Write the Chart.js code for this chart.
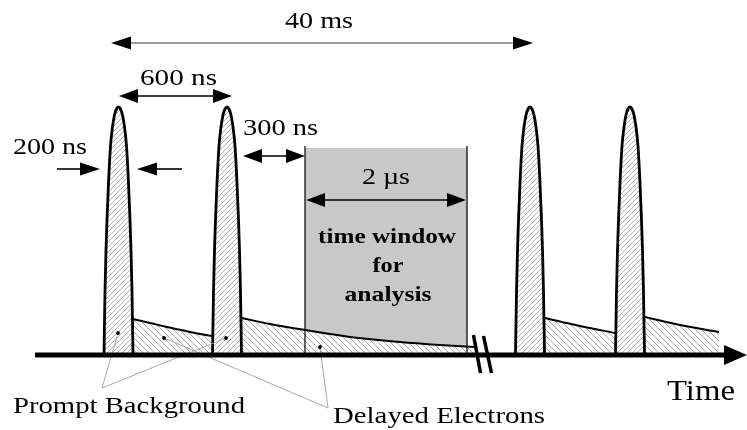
<!DOCTYPE html>
<html>
<head>
<meta charset="utf-8">
<title>Pulse timing and analysis window</title>
<script src="https://cdn.jsdelivr.net/npm/chart.js@4/dist/chart.umd.min.js"></script>
<style>
  html, body { margin: 0; padding: 0; background: #fff; }
  canvas { display: block; }
  .warm { position: absolute; left: -9999px; top: 0; font-family: "Liberation Serif"; }
</style>
</head>
<body>
<span class="warm">Ab</span><span class="warm" style="font-weight:bold">Ab</span>
<canvas id="c" width="747" height="430"></canvas>
<script>
// Beam pulses: centre times (arbitrary time units) and the shared pulse profile
const pulseCentres = [118.5, 227, 530, 630];
const pulseOffsets = [-14.5, -13.5, -12.5, -11.5, -10, -8, -6, -4, -2, 0, 2, 4, 6, 8, 10, 11.5, 12.5, 13.5, 14.5];
const pulseHeights = [0, 63, 105, 135, 172, 209, 228, 240, 246, 248, 246, 240, 228, 209, 172, 135, 105, 63, 0];

// Delayed-electron tails following each pulse
const tailTimes  = [[133, 150, 167, 190, 212], [242, 270, 305, 350, 400, 440, 474], [545, 580, 615], [645, 680, 719]];
const tailLevels = [[36, 32, 28, 23, 19],      [37, 31, 25, 18, 13, 10, 8],        [37, 29, 22],    [38, 30, 23]];

// Analysis window
const windowStart = 305;
const windowEnd = 467;
const windowTop = 207;

// Interval labels
const intervalLabels = ['40 ms', '600 ns', '200 ns', '300 ns', '2 \u00b5s'];
const windowLines = ['time window', 'for', 'analysis'];
const calloutLabels = ['Prompt Background', 'Delayed Electrons'];
const axisLabel = 'Time';

const SERIF = '"Liberation Serif", "Times New Roman", Times, serif';

function hatch(dir, size, colour) {
  const c = document.createElement('canvas');
  c.width = size; c.height = size;
  const g = c.getContext('2d');
  g.fillStyle = '#ffffff';
  g.fillRect(0, 0, size, size);
  g.strokeStyle = colour;
  g.lineWidth = 0.9;
  g.beginPath();
  if (dir === '/') {
    g.moveTo(-1, size + 1); g.lineTo(size + 1, -1);
    g.moveTo(-1, 1); g.lineTo(1, -1);
    g.moveTo(size - 1, size + 1); g.lineTo(size + 1, size - 1);
  } else {
    g.moveTo(-1, -1); g.lineTo(size + 1, size + 1);
    g.moveTo(size - 1, -1); g.lineTo(size + 1, 1);
    g.moveTo(-1, size - 1); g.lineTo(1, size + 1);
  }
  g.stroke();
  return g.createPattern(c, 'repeat');
}

const pulseFill = hatch('/', 5, '#a8a8a8');
const tailFill = hatch('\\', 6, '#a0a0a0');

const datasets = [];

// grey analysis window (bottom layer)
datasets.push({
  label: 'window',
  data: [{x: windowStart, y: 0}, {x: windowStart, y: windowTop}, {x: windowEnd, y: windowTop}, {x: windowEnd, y: 0}],
  borderWidth: 0,
  backgroundColor: '#c8c8c8',
  fill: 'origin',
  tension: 0,
  order: 5
});

// delayed-electron tails
tailTimes.forEach((ts, i) => {
  datasets.push({
    label: 'tail ' + (i + 1),
    data: ts.map((t, k) => ({x: t, y: tailLevels[i][k]})),
    borderColor: '#000',
    borderWidth: 2,
    backgroundColor: tailFill,
    fill: 'origin',
    tension: 0.35,
    order: 4
  });
});

// window edges drawn over the tail
datasets.push({
  label: 'window edges',
  data: [{x: windowStart, y: 0}, {x: windowStart, y: windowTop + 2}, {x: 386, y: null},
         {x: windowEnd, y: windowTop + 2}, {x: windowEnd, y: 0}],
  borderColor: '#000',
  borderWidth: 1.2,
  fill: false,
  spanGaps: false,
  tension: 0,
  order: 3
});

// pulses
pulseCentres.forEach((c, i) => {
  datasets.push({
    label: 'pulse ' + (i + 1),
    data: pulseOffsets.map((d, k) => ({x: c + d, y: pulseHeights[k]})),
    borderColor: '#000',
    borderWidth: 2.8,
    backgroundColor: pulseFill,
    fill: 'origin',
    cubicInterpolationMode: 'monotone',
    order: 2
  });
});

const diagram = {
  id: 'diagram',
  afterDatasetsDraw(chart) {
    const ctx = chart.ctx;
    const xs = chart.scales.x, ys = chart.scales.y;
    const X = v => xs.getPixelForValue(v);
    const Y = v => ys.getPixelForValue(v);

    function line(x1, y1, x2, y2, colour, w) {
      ctx.save();
      ctx.strokeStyle = colour; ctx.lineWidth = w;
      ctx.beginPath(); ctx.moveTo(X(x1), Y(y1)); ctx.lineTo(X(x2), Y(y2)); ctx.stroke();
      ctx.restore();
    }
    function head(tx, ty, dir, len, half) {
      const px = X(tx), py = Y(ty);
      ctx.save();
      ctx.fillStyle = '#000';
      ctx.beginPath();
      ctx.moveTo(px, py);
      ctx.lineTo(px - dir * len, py - half);
      ctx.lineTo(px - dir * len, py + half);
      ctx.closePath(); ctx.fill();
      ctx.restore();
    }
    function dblArrow(x1, x2, yv, colour, len, half) {
      line(x1 + len * 0.7, yv, x2 - len * 0.7, yv, colour, 1.6);
      head(x1, yv, -1, len, half);
      head(x2, yv, 1, len, half);
    }
    function label(text, x0, base, size, width, bold, centre) {
      ctx.save();
      ctx.font = (bold ? 'bold ' : '') + size + 'px ' + SERIF;
      const k = width / ctx.measureText(text).width;
      ctx.translate(X(x0), Y(base));
      ctx.scale(k, 1);
      ctx.textAlign = centre ? 'center' : 'left';
      ctx.textBaseline = 'alphabetic';
      ctx.fillStyle = '#000';
      ctx.fillText(text, 0, 0);
      ctx.restore();
    }
    function dot(xv, yv) {
      ctx.save();
      ctx.fillStyle = '#000';
      ctx.beginPath(); ctx.arc(X(xv), Y(yv), 1.9, 0, Math.PI * 2); ctx.fill();
      ctx.restore();
    }

    // callout leaders
    const grey = '#a8a8a8';
    line(102, -33, 118, 22, grey, 1);
    line(102, -33, 226, 17, grey, 1);
    line(328, -53, 164, 17, grey, 1);
    line(328, -53, 320, 8, grey, 1);
    dot(118, 22); dot(164, 17); dot(226, 17); dot(320, 8);

    // time axis with arrow
    line(35, 0, 728, 0, '#000', 5);
    head(747, 0, 1, 23, 10);

    // axis break
    line(473.5, 20, 480.5, -18, '#000', 3.5);
    line(483.5, 19, 491.5, -18, '#000', 3.5);

    // interval arrows
    dblArrow(111, 533, 312, '#808080', 20, 6.5);
    dblArrow(119, 232, 259, '#000', 19, 7);
    dblArrow(243, 305, 199, '#000', 19, 7);
    dblArrow(306, 466, 155, '#000', 19, 7);
    line(57, 186, 85, 186, '#000', 1.6);
    head(100, 186, 1, 20, 6.5);
    line(152, 186, 182, 186, '#000', 1.6);
    head(137, 186, -1, 20, 6.5);

    // labels
    label(intervalLabels[0], 285, 327, 23, 68);
    label(intervalLabels[1], 140, 270, 23, 77);
    label(intervalLabels[2], 13, 201, 23, 74);
    label(intervalLabels[3], 243, 220, 23, 75);
    label(intervalLabels[4], 362, 171, 23, 48);
    label(windowLines[0], 387, 112, 21, 138, true, true);
    label(windowLines[1], 388, 83, 21, 31, true, true);
    label(windowLines[2], 388, 54, 21, 87, true, true);
    label(calloutLabels[0], 13, -58, 23, 232);
    label(calloutLabels[1], 333, -68, 23, 212);
    label(axisLabel, 667, -45, 30, 68);
  }
};

const chart = new Chart(document.getElementById('c'), {
  type: 'line',
  data: { datasets },
  options: {
    responsive: false,
    animation: false,
    devicePixelRatio: 1,
    layout: { padding: 0 },
    elements: { point: { radius: 0, hoverRadius: 0 } },
    plugins: { legend: { display: false }, tooltip: { enabled: false } },
    events: [],
    scales: {
      x: { type: 'linear', min: 0, max: 747, display: false },
      y: { type: 'linear', min: -75, max: 355, display: false }
    }
  },
  plugins: [diagram]
});

// redraw once the serif faces are ready so the labels use them
Promise.all([
  document.fonts.load('23px "Liberation Serif"'),
  document.fonts.load('bold 21px "Liberation Serif"')
]).then(() => chart.draw()).catch(() => {});
</script>
</body>
</html>
